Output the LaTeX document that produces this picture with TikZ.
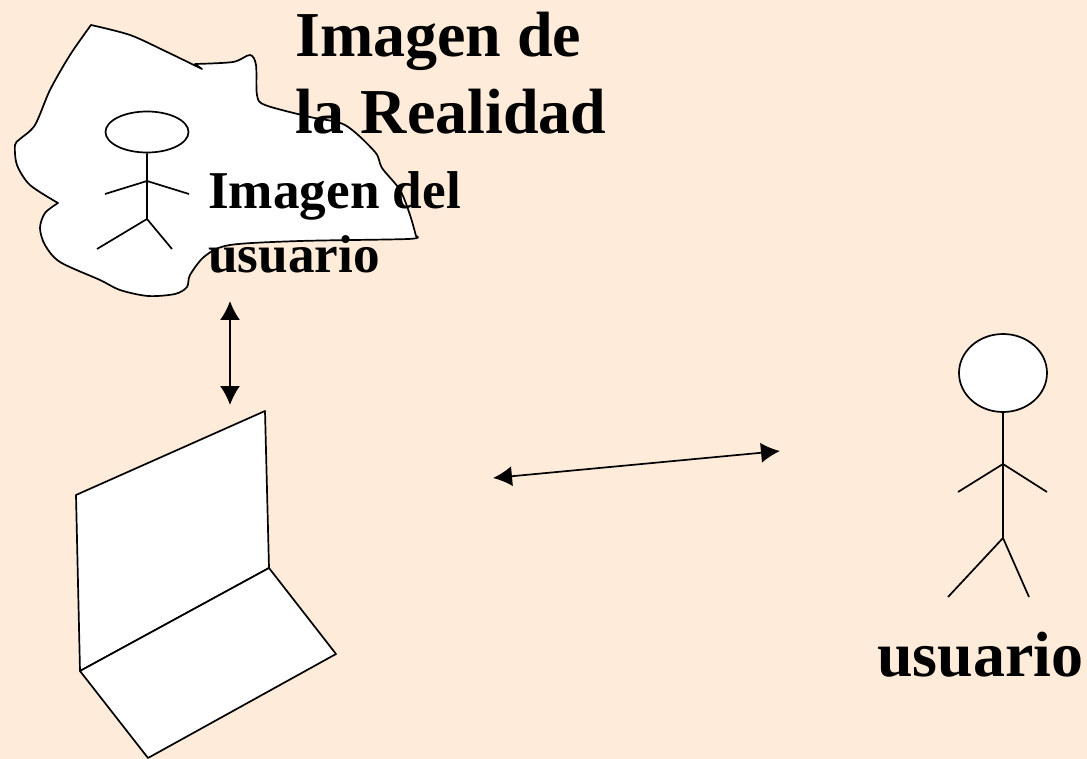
\documentclass[tikz,border=0pt]{standalone}
\usepackage{fontspec}
\setmainfont{Liberation Serif}
\usetikzlibrary{arrows.meta,shapes.geometric}
\definecolor{bgc}{RGB}{255,235,217}
\tikzset{
 px/.style={x=1pt,y=-1pt},
 ln/.style={draw=black,line width=1.7pt,line join=round},
 shapef/.style={ln,fill=white},
 headn/.style={ellipse,draw=black,line width=1.7pt,fill=white,inner sep=0pt},
 dbl/.style={black,line width=1.7pt,{Latex[length=19pt,width=20pt]}-{Latex[length=19pt,width=20pt]}},
 big/.style={font=\bfseries\fontsize{64pt}{64pt}\selectfont,anchor=base west,inner sep=0pt},
 mid/.style={font=\bfseries\fontsize{53.2pt}{53.2pt}\selectfont,anchor=base west,inner sep=0pt}
}
\begin{document}
\begin{tikzpicture}[px]
\useasboundingbox (0,0) rectangle (1087,759);
\fill[bgc] (0,0) rectangle (1087,759);
\draw[shapef] plot[smooth,tension=0.5] coordinates {(91,25) (130,35) (165,51) (202,69)}
 -- (195,64) -- plot[smooth,tension=0.5] coordinates {(195,64) (233,62) (250,55) (256,65) (257,95) (265,105) (310,117) (345,125) (375,152) (382,168) (400,190) (410,215) (416,236)}
 -- plot[smooth,tension=0.5] coordinates {(416,236) (408,239) (300,241) (230,245) (205,256) (190,275) (187,287) (175,294) (148,296) (120,290) (100,280) (60,262) (45,245) (40,228) (45,213) (58,203)}
 -- plot[smooth,tension=0.5] coordinates {(58,203) (30,185) (17,165) (15,145) (20,139) (35,125) (50,90) (70,55) (91,25)} -- cycle;
\node[headn,minimum width=83pt,minimum height=41pt] (hd1) at (147,132) {};
\coordinate (n1) at (147,181);
\coordinate (h1) at (147,219);
\coordinate (l1) at (97,249);
\coordinate (l2) at (172,249);
\coordinate (r1) at (105,194);
\coordinate (r2) at (189,194);
\draw[ln] (hd1.south) -- (n1) -- (h1) -- (l1);
\draw[ln] (h1) -- (l2);
\draw[ln] (r1) -- (n1) -- (r2);
\coordinate (a1) at (230,301);
\coordinate (a2) at (230,405);
\draw[dbl] (a1) -- (a2);
\draw[shapef] (76,495) -- (265,411) -- (269,568) -- (80,671) -- cycle;
\draw[shapef] (80,671) -- (269,568) -- (336,654) -- (148,758) -- cycle;
\coordinate (a3) at (493,478);
\coordinate (a4) at (780,451);
\draw[dbl] (a3) -- (a4);
\node[headn,minimum width=88pt,minimum height=78pt] (hd2) at (1003,373) {};
\coordinate (n2) at (1003,464);
\coordinate (h2) at (1003,538);
\coordinate (l3) at (948,597);
\coordinate (l4) at (1029,597);
\coordinate (r3) at (958,492);
\coordinate (r4) at (1047,492);
\draw[ln] (hd2.south) -- (n2) -- (h2) -- (l3);
\draw[ln] (h2) -- (l4);
\draw[ln] (r3) -- (n2) -- (r4);
\node[big] (t1) at (295,57) {Imagen de};
\node[big] (t2) at (295,134) {la Realidad};
\node[mid] (t3) at (208,209) {Imagen del};
\node[mid] (t4) at (208,273) {usuario};
\node[big] (t5) at (877,676) {usuario};
\end{tikzpicture}
\end{document}
